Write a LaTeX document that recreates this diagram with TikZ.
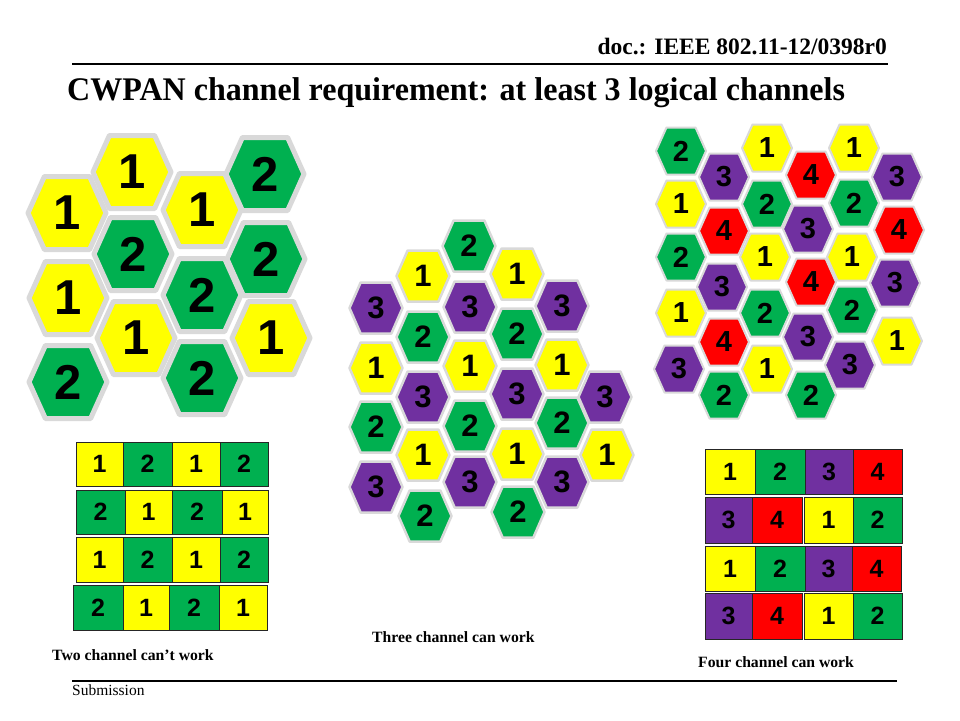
\documentclass[tikz,border=0pt]{standalone}
\usepackage{fontspec}
\setmainfont{Liberation Serif}
\newfontfamily\digitfont{Liberation Sans}
\definecolor{cy}{RGB}{255,255,0}
\definecolor{cg}{RGB}{0,176,80}
\definecolor{cp}{RGB}{112,48,160}
\definecolor{cr}{RGB}{255,0,0}
\definecolor{hb}{RGB}{217,217,217}
\newcommand\hexcell[5]{%
  \draw[hexb,fill=#4] ({#2-\hexw},{#3}) -- ({#2-\hexw*\hext},{#3-\hexh}) -- ({#2+\hexw*\hext},{#3-\hexh}) -- ({#2+\hexw},{#3}) -- ({#2+\hexw*\hext},{#3+\hexh}) -- ({#2-\hexw*\hext},{#3+\hexh}) -- cycle;
  \node[hexlabel] (#1) at (#2,#3) {#5};}
\newcommand\gridcell[7]{%
  \pgfmathsetmacro\gcw{#3-#2}\pgfmathsetmacro\gch{#5-#4}%
  \pgfmathsetmacro\gcx{(#2+#3)/2}\pgfmathsetmacro\gcy{(#4+#5)/2}%
  \node[cell,fill=#6,minimum width=\gcw pt,minimum height=\gch pt] (#1) at (\gcx,\gcy) {#7};}
\begin{document}
\begin{tikzpicture}[x=1pt,y=-1pt,
  hexb/.style={draw=hb,line width=\hexbw,line join=round},
  hexlabel/.style={font=\digitfont\bfseries\fontsize{\hexfs}{\hexfs}\selectfont,inner sep=0pt},
  cell/.style={draw=black!85,line width=1pt,inner sep=0pt,font=\digitfont\bfseries\fontsize{25}{25}\selectfont},
  lab/.style={font=\bfseries\fontsize{15.7}{16}\selectfont,anchor=base west,inner sep=0pt},
  rule/.style={line width=1.4pt}]
\fill[white] (0,0) rectangle (960,720);
\useasboundingbox (0,0) rectangle (960,720);
\def\hext{0.58}
% header
\node[font=\bfseries\fontsize{23.5}{23.5}\selectfont,anchor=base east,inner sep=0pt] (doc) at (887,54) {doc.: IEEE 802.11-12/0398r0};
\coordinate (h1) at (72,64); \coordinate (h2) at (888,64);
\draw[rule] (h1) -- (h2);
\node[font=\bfseries\fontsize{33}{33}\selectfont,anchor=base west,inner sep=0pt] (title) at (67,100) {\scalebox{0.971}[1]{CWPAN channel requirement: at least 3 logical channels}};
% footer
\coordinate (f1) at (72,681); \coordinate (f2) at (897,681);
\draw[rule] (f1) -- (f2);
\node[font=\fontsize{15.5}{15.5}\selectfont,anchor=base west,inner sep=0pt] (sub) at (72,695) {Submission};
% left cluster
\def\hexw{39}\def\hexh{36.5}\def\hexbw{5pt}\def\hexfs{49}
\hexcell{L1}{132}{172}{cy}{1}
\hexcell{L2}{265}{174}{cg}{2}
\hexcell{L3}{67}{213}{cy}{1}
\hexcell{L4}{202}{210}{cy}{1}
\hexcell{L5}{133}{254}{cg}{2}
\hexcell{L6}{266}{259}{cg}{2}
\hexcell{L7}{68}{298}{cy}{1}
\hexcell{L8}{202}{295}{cg}{2}
\hexcell{L9}{136}{338}{cy}{1}
\hexcell{L10}{271}{338}{cy}{1}
\hexcell{L11}{68}{382}{cg}{2}
\hexcell{L12}{202}{378}{cg}{2}
% middle cluster
\def\hexw{26.5}\def\hexh{25.5}\def\hexbw{2.5pt}\def\hexfs{31}
\hexcell{M1}{376}{308}{cp}{3}
\hexcell{M2}{376}{368}{cy}{1}
\hexcell{M3}{376}{427}{cg}{2}
\hexcell{M4}{376}{487}{cp}{3}
\hexcell{M5}{423}{276}{cy}{1}
\hexcell{M6}{423}{337}{cg}{2}
\hexcell{M7}{423}{397}{cp}{3}
\hexcell{M8}{423}{455}{cy}{1}
\hexcell{M9}{425}{516}{cg}{2}
\hexcell{M10}{469}{246}{cg}{2}
\hexcell{M11}{470}{307}{cp}{3}
\hexcell{M12}{470}{366}{cy}{1}
\hexcell{M13}{470}{426}{cg}{2}
\hexcell{M14}{470}{482}{cp}{3}
\hexcell{M15}{517}{274}{cy}{1}
\hexcell{M16}{517}{334}{cg}{2}
\hexcell{M17}{517}{394}{cp}{3}
\hexcell{M18}{517}{454}{cy}{1}
\hexcell{M19}{518}{512}{cg}{2}
\hexcell{M20}{562}{306}{cp}{3}
\hexcell{M21}{562}{365}{cy}{1}
\hexcell{M22}{562}{423}{cg}{2}
\hexcell{M23}{562}{482}{cp}{3}
\hexcell{M24}{605}{397}{cp}{3}
\hexcell{M25}{607}{455}{cy}{1}
% right cluster
\def\hexw{25}\def\hexh{23.5}\def\hexbw{2pt}\def\hexfs{29}
\hexcell{R1}{681}{151}{cg}{2}
\hexcell{R2}{681}{204}{cy}{1}
\hexcell{R3}{681}{257}{cg}{2}
\hexcell{R4}{681}{313}{cy}{1}
\hexcell{R5}{679}{369}{cp}{3}
\hexcell{R6}{724}{177}{cp}{3}
\hexcell{R7}{724}{231}{cr}{4}
\hexcell{R8}{722}{287}{cp}{3}
\hexcell{R9}{724}{342}{cr}{4}
\hexcell{R10}{724}{395}{cg}{2}
\hexcell{R11}{767}{148}{cy}{1}
\hexcell{R12}{767}{204}{cg}{2}
\hexcell{R13}{765}{257}{cy}{1}
\hexcell{R14}{765}{313}{cg}{2}
\hexcell{R15}{767}{369}{cy}{1}
\hexcell{R16}{811}{175}{cr}{4}
\hexcell{R17}{808}{229}{cp}{3}
\hexcell{R18}{811}{282}{cr}{4}
\hexcell{R19}{808}{337}{cp}{3}
\hexcell{R20}{811}{395}{cg}{2}
\hexcell{R21}{854}{148}{cy}{1}
\hexcell{R22}{854}{203}{cg}{2}
\hexcell{R23}{852}{257}{cy}{1}
\hexcell{R24}{852}{310}{cg}{2}
\hexcell{R25}{850}{365}{cp}{3}
\hexcell{R26}{897}{177}{cp}{3}
\hexcell{R27}{899}{230}{cr}{4}
\hexcell{R28}{895}{283}{cp}{3}
\hexcell{R29}{897}{341}{cy}{1}
% left grid
\gridcell{A11}{76}{123}{442}{486}{cy}{1}
\gridcell{A12}{123}{172}{442}{486}{cg}{2}
\gridcell{A13}{172}{220}{442}{486}{cy}{1}
\gridcell{A14}{220}{268}{442}{486}{cg}{2}
\gridcell{A21}{76}{125}{490}{534}{cg}{2}
\gridcell{A22}{125}{172}{490}{534}{cy}{1}
\gridcell{A23}{172}{222}{490}{534}{cg}{2}
\gridcell{A24}{222}{268}{490}{534}{cy}{1}
\gridcell{A31}{76}{123}{537}{582}{cy}{1}
\gridcell{A32}{123}{172}{537}{582}{cg}{2}
\gridcell{A33}{172}{220}{537}{582}{cy}{1}
\gridcell{A34}{220}{268}{537}{582}{cg}{2}
\gridcell{A41}{73}{123}{585}{630}{cg}{2}
\gridcell{A42}{123}{169}{585}{630}{cy}{1}
\gridcell{A43}{169}{219}{585}{630}{cg}{2}
\gridcell{A44}{219}{267}{585}{630}{cy}{1}
% right grid
\gridcell{B11}{705}{755}{449}{494}{cy}{1}
\gridcell{B12}{755}{805}{449}{494}{cg}{2}
\gridcell{B13}{805}{853}{449}{494}{cp}{3}
\gridcell{B14}{853}{902}{449}{494}{cr}{4}
\gridcell{B21}{705}{752}{497}{543}{cp}{3}
\gridcell{B22}{752}{802}{497}{543}{cr}{4}
\gridcell{B23}{804}{853}{497}{543}{cy}{1}
\gridcell{B24}{853}{902}{497}{543}{cg}{2}
\gridcell{B31}{705}{755}{546}{591}{cy}{1}
\gridcell{B32}{755}{805}{546}{591}{cg}{2}
\gridcell{B33}{805}{852}{546}{591}{cp}{3}
\gridcell{B34}{852}{901}{546}{591}{cr}{4}
\gridcell{B41}{705}{752}{593}{639}{cp}{3}
\gridcell{B42}{752}{802}{593}{639}{cr}{4}
\gridcell{B43}{804}{853}{593}{639}{cy}{1}
\gridcell{B44}{853}{902}{593}{639}{cg}{2}
% captions
\node[lab] (cap2) at (52,660) {Two channel can’t work};
\node[lab] (cap3) at (372,642) {Three channel can work};
\node[lab] (cap4) at (698,667) {Four channel can work};
\end{tikzpicture}
\end{document}
